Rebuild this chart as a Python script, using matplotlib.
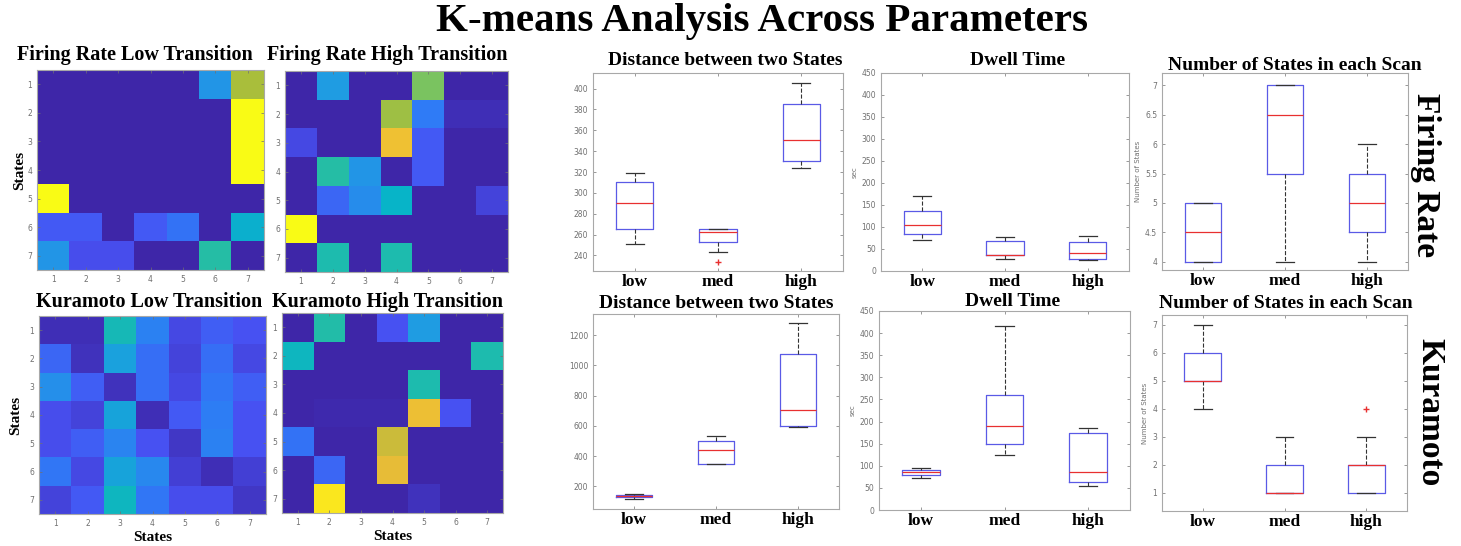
import numpy as np
import matplotlib
matplotlib.use("Agg")
import matplotlib.pyplot as plt
from matplotlib.colors import LinearSegmentedColormap

W, H = 1461, 546

# transition matrices (rows = from state 1..7, cols = to state 1..7)
fr_low = [
    [0, 0, 0, 0, 0, 0.28, 0.70],
    [0, 0, 0, 0, 0, 0, 1.0],
    [0, 0, 0, 0, 0, 0, 1.0],
    [0, 0, 0, 0, 0, 0, 1.0],
    [1.0, 0, 0, 0, 0, 0, 0],
    [0.12, 0.12, 0, 0.12, 0.18, 0, 0.38],
    [0.28, 0.09, 0.09, 0, 0, 0.48, 0],
]
fr_high = [
    [0, 0.30, 0, 0, 0.62, 0, 0],
    [0, 0, 0, 0.68, 0.20, 0.02, 0.02],
    [0.08, 0, 0, 0.85, 0.12, 0, 0],
    [0, 0.48, 0.28, 0, 0.12, 0, 0],
    [0, 0.15, 0.25, 0.40, 0, 0, 0.07],
    [1.0, 0, 0, 0, 0, 0, 0],
    [0, 0.46, 0, 0.46, 0, 0, 0],
]
ku_low = [
    [0.02, 0.02, 0.44, 0.22, 0.08, 0.13, 0.10],
    [0.15, 0.03, 0.32, 0.17, 0.07, 0.17, 0.08],
    [0.26, 0.13, 0.03, 0.17, 0.08, 0.19, 0.13],
    [0.09, 0.07, 0.33, 0.02, 0.12, 0.21, 0.10],
    [0.09, 0.13, 0.23, 0.10, 0.04, 0.22, 0.10],
    [0.19, 0.08, 0.33, 0.24, 0.06, 0.02, 0.06],
    [0.07, 0.12, 0.42, 0.19, 0.09, 0.09, 0.04],
]
ku_high = [
    [0, 0.47, 0, 0.10, 0.30, 0, 0],
    [0.42, 0, 0, 0, 0, 0, 0.46],
    [0, 0, 0, 0, 0.46, 0, 0],
    [0, 0.01, 0.01, 0.01, 0.84, 0.10, 0],
    [0.18, 0, 0, 0.76, 0, 0, 0],
    [0, 0.15, 0, 0.82, 0, 0, 0],
    [0, 0.96, 0, 0, 0.03, 0, 0],
]
states = [1, 2, 3, 4, 5, 6, 7]

# boxplot summaries per group: [whisker low, q1, median, q3, whisker high]
groups = ["low", "med", "high"]
dist_fr = [[251, 265, 290, 310, 319], [243, 253, 262, 265, 265], [324, 331, 351, 385, 405]]
dist_fr_out = [[], [234], []]
dwell_fr = [[70, 83, 104, 136, 171], [27, 36, 37, 68, 77], [26, 28, 41, 65, 80]]
dwell_fr_out = [[], [], []]
nst_fr = [[4, 4, 4.5, 5, 5], [4, 5.5, 6.5, 7, 7], [4, 4.5, 5, 5.5, 6]]
nst_fr_out = [[], [], []]
dist_ku = [[115, 127, 133, 140, 148], [347, 347, 442, 497, 534], [591, 596, 705, 1073, 1281]]
dist_ku_out = [[], [], []]
dwell_ku = [[73, 79, 85, 90, 95], [124, 150, 191, 259, 416], [54, 64, 87, 175, 186]]
dwell_ku_out = [[], [], []]
nst_ku = [[4, 5, 5, 6, 7], [1, 1, 1, 2, 3], [1, 1, 2, 2, 3]]
nst_ku_out = [[], [], [4]]

# approximate MATLAB parula
parula = LinearSegmentedColormap.from_list("parula", [
    (0.00, "#3e26a8"), (0.10, "#4852f4"), (0.20, "#2f7bf6"), (0.30, "#1f9de2"),
    (0.40, "#07b4c8"), (0.50, "#2ec09c"), (0.60, "#70c46a"), (0.70, "#a8bf3c"),
    (0.80, "#e2b93a"), (0.90, "#fcc92e"), (1.00, "#f9fb15")])

serif = "Liberation Serif"
tick_col = "#707070"
frame_col = "#a8a8a8"


def px_axes(fig, l, t, r, b):
    return fig.add_axes([l / W, 1 - b / H, (r - l) / W, (b - t) / H])


def ftext(fig, x, y, s, **kw):
    fig.text(x / W, 1 - y / H, s, ha="center", va="center", family=serif,
             weight="bold", **kw)


def style(ax):
    ax.tick_params(direction="in", top=True, right=True, length=2, width=0.5,
                   colors=tick_col, labelsize=5.5)
    for sp in ax.spines.values():
        sp.set_color(frame_col)
        sp.set_linewidth(0.8)


def heat(ax, mat):
    ax.imshow(np.array(mat), cmap=parula, vmin=0, vmax=1, aspect="auto",
              interpolation="nearest")
    ax.set_xticks(range(7))
    ax.set_xticklabels(states)
    ax.set_yticks(range(7))
    ax.set_yticklabels(states)
    style(ax)


def box(ax, summ, outl, ylim, yticks):
    stats = []
    for (lo, q1, med, q3, hi), fl in zip(summ, outl):
        stats.append(dict(whislo=lo, q1=q1, med=med, q3=q3, whishi=hi, fliers=fl))
    ax.bxp(stats, positions=[1, 2, 3], widths=0.45, capwidths=0.22,
           boxprops=dict(color="#5a5ae6", lw=0.9),
           medianprops=dict(color="#e83030", lw=0.9),
           whiskerprops=dict(color="#333333", lw=0.8, ls="--"),
           capprops=dict(color="#333333", lw=0.9),
           flierprops=dict(marker="+", markeredgecolor="#e83030", markersize=4))
    ax.set_xlim(0.5, 3.5)
    ax.set_ylim(*ylim)
    ax.set_yticks(yticks)
    style(ax)
    ax.set_xticks([1, 2, 3])
    ax.set_xticklabels(groups, family=serif, weight="bold", fontsize=12.5,
                       color="black")
    ax.tick_params(axis="x", pad=2)


fig = plt.figure(figsize=(W / 100, H / 100), dpi=100)

ftext(fig, 762, 22, "K-means Analysis Across Parameters", fontsize=29.5)

# heatmaps
a = px_axes(fig, 37, 70, 264, 270)
heat(a, fr_low)
a.set_ylabel("States", family=serif, weight="bold", fontsize=11, labelpad=1)
ftext(fig, 135, 55, "Firing Rate Low Transition", fontsize=14.5)

a = px_axes(fig, 285, 71, 508, 272)
heat(a, fr_high)
ftext(fig, 387, 55, "Firing Rate High Transition", fontsize=14.5)

a = px_axes(fig, 39, 316, 266, 514)
heat(a, ku_low)
a.set_ylabel("States", family=serif, weight="bold", fontsize=11, labelpad=5)
a.set_xlabel("States", family=serif, weight="bold", fontsize=11, labelpad=2)
ftext(fig, 149, 302, "Kuramoto Low Transition", fontsize=14.5)

a = px_axes(fig, 282, 313, 503, 513)
heat(a, ku_high)
a.set_xlabel("States", family=serif, weight="bold", fontsize=11, labelpad=2)
ftext(fig, 388, 302, "Kuramoto High Transition", fontsize=14.5)

# boxplots, firing rate row
a = px_axes(fig, 593, 73, 843, 271)
box(a, dist_fr, dist_fr_out, (225, 415), np.arange(240, 401, 20))
ftext(fig, 725, 60, "Distance between two States", fontsize=14)

a = px_axes(fig, 881, 73, 1129, 271)
box(a, dwell_fr, dwell_fr_out, (0, 450), np.arange(0, 451, 50))
a.set_ylabel("sec", fontsize=5, color=tick_col, labelpad=3)
ftext(fig, 1018, 60, "Dwell Time", fontsize=14)

a = px_axes(fig, 1162, 73, 1408, 270)
box(a, nst_fr, nst_fr_out, (3.86, 7.21), np.arange(4, 7.01, 0.5))
a.set_yticklabels(["4", "4.5", "5", "5.5", "6", "6.5", "7"])
a.set_ylabel("Number of States", fontsize=5, color=tick_col, labelpad=3)
ftext(fig, 1295, 65, "Number of States in each Scan", fontsize=14)

# boxplots, kuramoto row
a = px_axes(fig, 593, 314, 839, 509)
box(a, dist_ku, dist_ku_out, (50, 1340), np.arange(200, 1201, 200))
ftext(fig, 716, 303, "Distance between two States", fontsize=14)

a = px_axes(fig, 879, 311, 1130, 510)
box(a, dwell_ku, dwell_ku_out, (0, 450), np.arange(0, 451, 50))
a.set_ylabel("sec", fontsize=5, color=tick_col, labelpad=3)
ftext(fig, 1013, 301, "Dwell Time", fontsize=14)

a = px_axes(fig, 1162, 315, 1407, 511)
box(a, nst_ku, nst_ku_out, (0.34, 7.35), np.arange(1, 8, 1))
a.set_ylabel("Number of States", fontsize=5, color=tick_col, labelpad=3)
ftext(fig, 1286, 303, "Number of States in each Scan", fontsize=14)

# row labels
ftext(fig, 1425, 175, "Firing Rate", fontsize=24, rotation=-90)
ftext(fig, 1430, 412, "Kuramoto", fontsize=24, rotation=-90)

fig.savefig("out.png", dpi=100)
